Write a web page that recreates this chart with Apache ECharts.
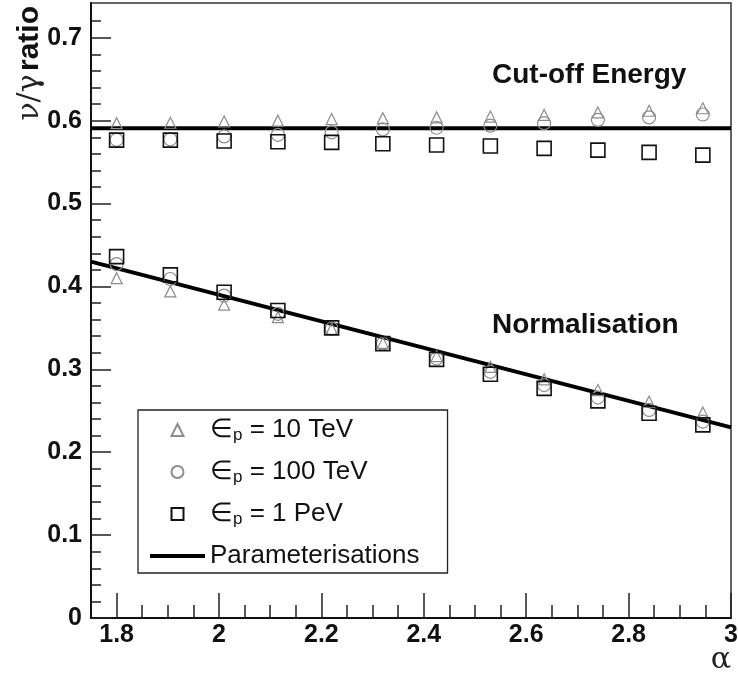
<!DOCTYPE html>
<html>
<head>
<meta charset="utf-8">
<script src="https://cdn.jsdelivr.net/npm/echarts@6/dist/echarts.min.js"></script>
<style>
  html, body { margin: 0; padding: 0; background: #fff; }
  #chart { width: 738px; height: 677px; }
</style>
</head>
<body>
<div id="chart"></div>
<script>
// spectral index values where the ratios were computed
const alpha = [1.80, 1.905, 2.01, 2.115, 2.22, 2.32, 2.425, 2.53, 2.635, 2.74, 2.84, 2.945];

// cut-off energy ratios
const tri10Cut = [0.597, 0.5975, 0.599, 0.600, 0.602, 0.603, 0.604, 0.605, 0.607, 0.610, 0.612, 0.615];
const circ100Cut = [0.577, 0.5775, 0.581, 0.583, 0.586, 0.5895, 0.5915, 0.594, 0.597, 0.601, 0.604, 0.6075];
const sq1Cut = [0.5766, 0.5766, 0.5755, 0.5746, 0.5738, 0.5722, 0.5706, 0.5694, 0.5666, 0.5645, 0.5618, 0.5585];

// normalisation ratios
const tri10Norm = [0.410, 0.394, 0.378, 0.363, 0.349, 0.332, 0.316, 0.303, 0.288, 0.275, 0.261, 0.248];
const circ100Norm = [0.427, 0.409, 0.389, 0.367, 0.349, 0.331, 0.313, 0.297, 0.281, 0.266, 0.251, 0.237];
const sq1Norm = [0.436, 0.414, 0.393, 0.371, 0.350, 0.331, 0.312, 0.294, 0.277, 0.262, 0.247, 0.233];

// parameterisation lines
const paramAlpha = [1.75, 3.0];
const cutoffParam = [0.591, 0.591];
const normParam = [0.430, 0.230];

// tick positions
const xMajorTicks = [1.8, 2, 2.2, 2.4, 2.6, 2.8, 3];
const xMinorTicks = [1.85, 1.9, 1.95, 2.05, 2.1, 2.15, 2.25, 2.3, 2.35, 2.45, 2.5, 2.55, 2.65, 2.7, 2.75, 2.85, 2.9, 2.95];
const yMajorTicks = [0, 0.1, 0.2, 0.3, 0.4, 0.5, 0.6, 0.7];
const yMinorTicks = [0.02, 0.04, 0.06, 0.08, 0.12, 0.14, 0.16, 0.18, 0.22, 0.24, 0.26, 0.28,
  0.32, 0.34, 0.36, 0.38, 0.42, 0.44, 0.46, 0.48, 0.52, 0.54, 0.56, 0.58, 0.62, 0.64, 0.66, 0.68, 0.72];

const X_MIN = 1.75, X_MAX = 3.0, Y_MIN = 0, Y_MAX = 0.742;
const FONT = "'Liberation Sans', Arial, Helvetica, sans-serif";
const SERIF = "'DejaVu Serif', 'Liberation Serif', serif";
const GREY = "#8c8c8c";

function pairs(ys) {
  return alpha.map((a, i) => [a, ys[i]]);
}

function markerSeries(name, symbol, size, color, width, cut, norm) {
  return {
    name,
    type: "scatter",
    symbol,
    symbolSize: size,
    data: pairs(cut).concat(pairs(norm)),
    itemStyle: { color: "rgba(0,0,0,0)", borderColor: color, borderWidth: width, opacity: 1 },
    emphasis: { disabled: true }
  };
}

function paramSeries(ys) {
  return {
    name: "Parameterisations",
    type: "line",
    symbol: "none",
    data: paramAlpha.map((a, i) => [a, ys[i]]),
    lineStyle: { color: "#000", width: 4 },
    itemStyle: { color: "#000" },
    emphasis: { disabled: true },
    z: 1
  };
}

const sub = { fontSize: 17, lineHeight: 14, verticalAlign: "bottom", fontFamily: FONT, color: "#111" };

const chart = echarts.init(document.getElementById("chart"), null, { renderer: "canvas" });

chart.setOption({
  animation: false,
  backgroundColor: "#fff",
  grid: {
    left: 91, right: 7, top: 3, bottom: 59,
    show: true, borderColor: "#333", borderWidth: 1.5,
    containLabel: false, outerBoundsMode: "none"
  },
  legend: {
    orient: "vertical",
    left: 138, top: 410,
    padding: [6, 28, 3, 12],
    itemGap: 14,
    itemWidth: 55,
    itemHeight: 12,
    borderColor: "#222",
    borderWidth: 1.3,
    selectedMode: false,
    data: [
      { name: "ep10", icon: "path://M5,0L10,10L0,10Z" },
      { name: "ep100", icon: "circle" },
      { name: "ep1000", icon: "path://M0,0L10,0L10,10L0,10Z" },
      { name: "Parameterisations", icon: "path://M0,0L55,0L55,4L0,4Z", itemStyle: { color: "#000", borderWidth: 0 } }
    ],
    formatter: (name) => ({
      ep10: "\u2208{s|p} = 10 TeV",
      ep100: "\u2208{s|p} = 100 TeV",
      ep1000: "\u2208{s|p} = 1 PeV",
      Parameterisations: "Parameterisations"
    }[name]),
    textStyle: {
      fontFamily: FONT, fontSize: 26, lineHeight: 28, color: "#111",
      rich: { s: sub }
    }
  },
  xAxis: [
    {
      type: "value", min: X_MIN, max: X_MAX,
      axisLine: { show: true, lineStyle: { color: "#111", width: 2 } },
      axisTick: { show: true, inside: true, length: 25, customValues: xMajorTicks, lineStyle: { color: "#222", width: 1.5 } },
      axisLabel: {
        customValues: xMajorTicks, margin: 5,
        fontFamily: FONT, fontWeight: "bold", fontSize: 25, color: "#111"
      },
      splitLine: { show: false }
    },
    {
      type: "value", min: X_MIN, max: X_MAX, position: "bottom",
      axisLine: { show: false },
      axisTick: { show: true, inside: true, length: 13, customValues: xMinorTicks, lineStyle: { color: "#222", width: 1.5 } },
      axisLabel: { show: false },
      splitLine: { show: false }
    }
  ],
  yAxis: [
    {
      type: "value", min: Y_MIN, max: Y_MAX,
      axisLine: { show: true, lineStyle: { color: "#111", width: 2 } },
      axisTick: { show: true, inside: true, length: 20, customValues: yMajorTicks, lineStyle: { color: "#222", width: 1.5 } },
      axisLabel: {
        customValues: yMajorTicks, margin: 9,
        fontFamily: FONT, fontWeight: "bold", fontSize: 25, color: "#111"
      },
      splitLine: { show: false }
    },
    {
      type: "value", min: Y_MIN, max: Y_MAX, position: "left",
      axisLine: { show: false },
      axisTick: { show: true, inside: true, length: 10, customValues: yMinorTicks, lineStyle: { color: "#222", width: 1.5 } },
      axisLabel: { show: false },
      splitLine: { show: false }
    }
  ],
  series: [
    markerSeries("ep10", "triangle", [11, 11], GREY, 1.2, tri10Cut, tri10Norm),
    markerSeries("ep100", "circle", 13, GREY, 1.2, circ100Cut, circ100Norm),
    markerSeries("ep1000", "rect", 14, "#111", 1.6, sq1Cut, sq1Norm),
    paramSeries(cutoffParam),
    paramSeries(normParam)
  ],
  graphic: [
    {
      type: "text", x: 30, y: 6, rotation: Math.PI / 2,
      style: {
        text: "{g|\u03bd/\u03b3} {b|ratio}",
        align: "right", verticalAlign: "middle",
        rich: {
          g: { fontFamily: SERIF, fontSize: 30, fill: "#222" },
          b: { fontFamily: FONT, fontWeight: "bold", fontSize: 30, fill: "#111" }
        }
      }
    },
    {
      type: "text", x: 731, y: 660,
      style: { text: "\u03b1", fontFamily: SERIF, fontSize: 30, fill: "#222", align: "right", verticalAlign: "middle" }
    },
    {
      type: "text", x: 492, y: 75,
      style: { text: "Cut-off Energy", fontFamily: FONT, fontWeight: "bold", fontSize: 28, fill: "#111", verticalAlign: "middle" }
    },
    {
      type: "text", x: 492, y: 325,
      style: { text: "Normalisation", fontFamily: FONT, fontWeight: "bold", fontSize: 28, fill: "#111", verticalAlign: "middle" }
    }
  ]
});
</script>
</body>
</html>
